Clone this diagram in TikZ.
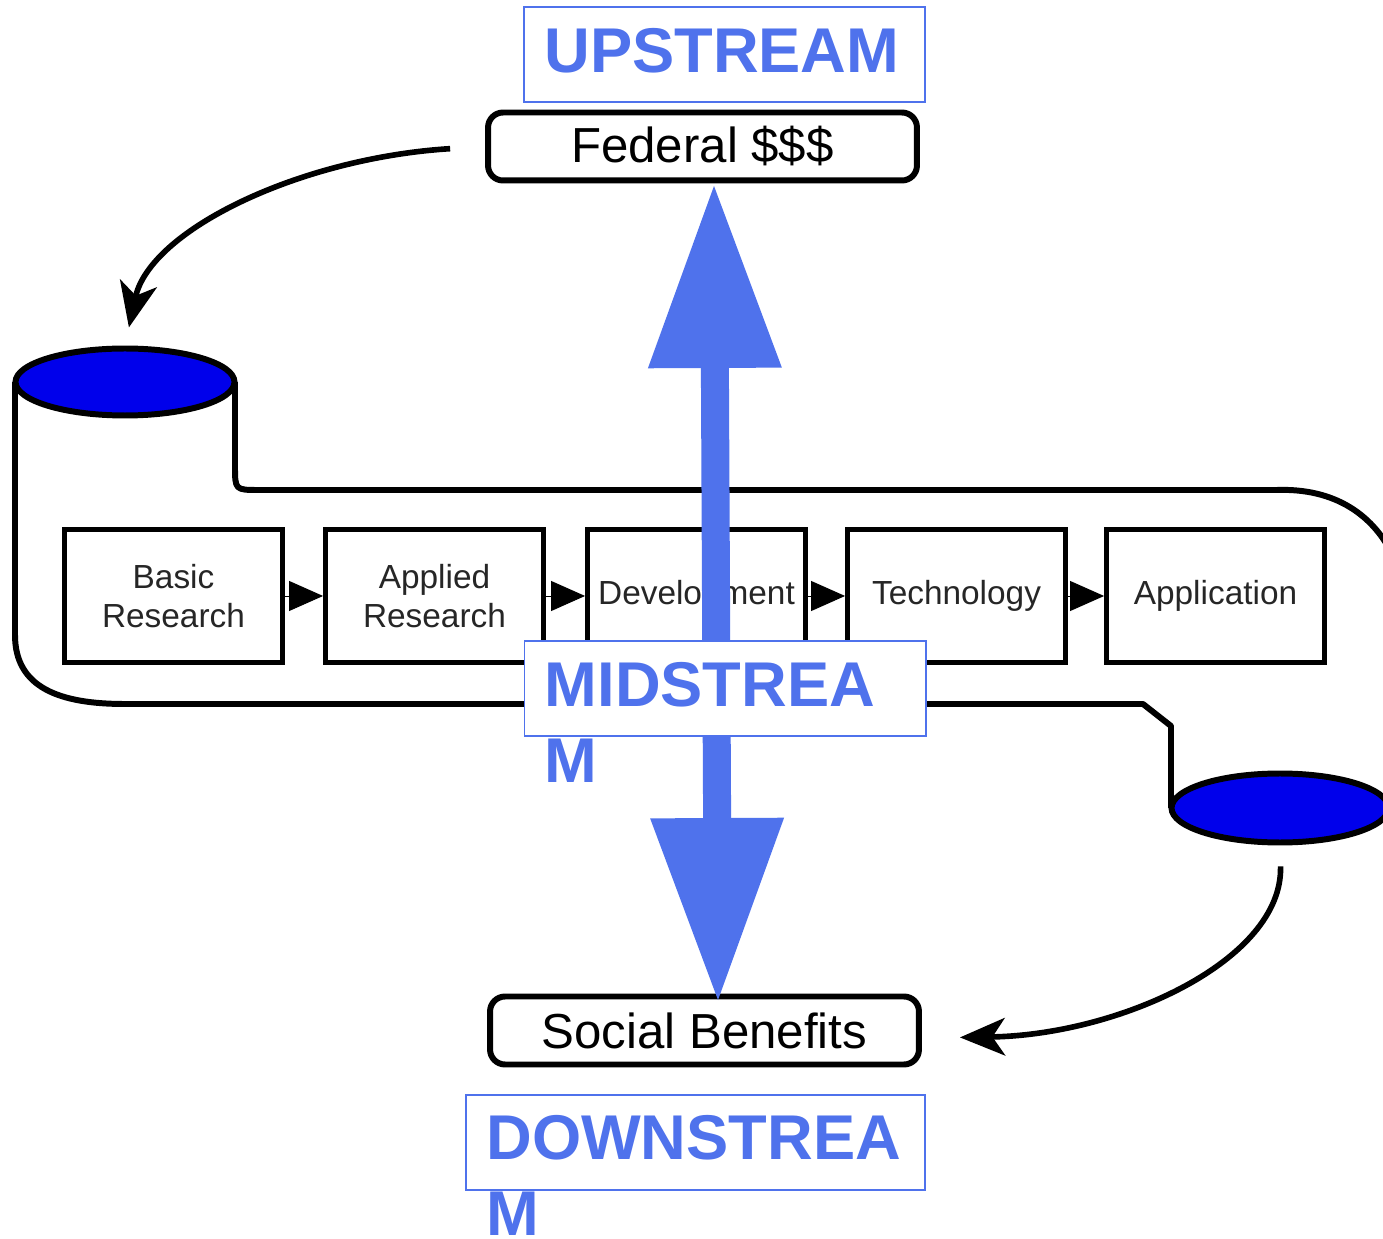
\documentclass[tikz,border=0pt]{standalone}
\usepackage{fontspec}
\setmainfont{Liberation Sans}
\usetikzlibrary{arrows.meta, shapes.geometric, positioning}
\definecolor{slideblue}{RGB}{79,114,236}
\definecolor{capblue}{RGB}{0,0,235}

\begin{document}
\begin{tikzpicture}[x=0.02cm, y=-0.02cm, >=Stealth,
	pipe/.style={line width=3.4pt, line join=round},
	stage/.style={draw, line width=2.8pt, minimum width=4.36cm, minimum height=2.66cm, inner sep=0pt, align=center, text=black!85, font=\fontsize{19}{22}\selectfont},
	money/.style={draw, line width=3.4pt, rounded corners=0.3cm, minimum width=8.58cm, minimum height=1.36cm, inner sep=0pt, font=\fontsize{28}{32}\selectfont},
	tankcap/.style={ellipse, draw, fill=capblue, line width=3.4pt, inner sep=0pt},
	tag/.style={draw=slideblue, line width=0.9pt, fill=white, minimum height=1.91cm, inner sep=0pt},
	tagtext/.style={text=slideblue, font=\fontsize{36}{43}\selectfont\bfseries, align=left, inner sep=0pt, anchor=north west},
	feed/.style={-{Triangle[length=0.68cm, width=0.6cm]}, line width=0.5pt},
	curvy/.style={-{Stealth[length=0.9cm, width=0.75cm, inset=0.25cm]}, line width=3.2pt},
	stream/.style={slideblue, line width=0.56cm, {Triangle[length=3.64cm, width=2.68cm, line width=0pt]}-{Triangle[length=3.64cm, width=2.68cm, line width=0pt]}}]
	\clip (0,0) rectangle (1383,1239);
	\fill[white] (0,0) rectangle (1383,1239);

	% the pipe
	\draw[pipe] (235,382) -- (235,466) .. controls (235,490) .. (259,490) -- (1277,490)
		.. controls (1335,488) and (1375,515) .. (1395,560) -- (1400,808);
	\draw[pipe] (15,382) -- (15,635) .. controls (15,688) and (60,704) .. (125,704)
		-- (1143,704) -- (1171,726) -- (1171,808);
	\node[tankcap, minimum width=4.38cm, minimum height=1.34cm] (6) at (125,382) {};
	\node[tankcap, minimum width=4.34cm, minimum height=1.38cm] (7) at (1280,808) {};

	\node[stage] (1) at (173.5,596) {Basic\\Research};
	\node[stage] (2) at (434.5,596) {Applied\\Research};
	\node[stage] (3) at (696.5,596) {\raisebox{-3pt}{Development}};
	\node[stage] (4) at (956.5,596) {\raisebox{-3pt}{Technology}};
	\node[stage] (5) at (1215.5,596) {\raisebox{-3pt}{Application}};
	\draw[feed] (1) to (2);
	\draw[feed] (2) to (3);
	\draw[feed] (3) to (4);
	\draw[feed] (4) to (5);

	\node[money] (8) at (702.5,146.5) {Federal \$\$\$};
	\node[money] (9) at (704.5,1030.5) {Social Benefits};

	\draw[curvy, shorten <=0.7cm, shorten >=0.37cm] (8.west) .. controls (300,158) and (150,230) .. (6.north);
	\draw[curvy, shorten <=0.42cm, shorten >=0.76cm] (7.south) .. controls (1283,960) and (1120,1035) .. ([yshift=-0.15cm]9.east);

	\coordinate (a) at (714,186);
	\coordinate (b) at (718,1000);
	\draw[stream] (a) -- (b);

	\node[tag, minimum width=8.03cm] (10) at (724.5,54.5) {};
	\node[tag, minimum width=8.03cm] (11) at (725,688.5) {};
	\node[tag, minimum width=9.19cm] (12) at (695.5,1142.5) {};
	\node[tagtext] at ([shift={(21,22)}]10.north west) {UPSTREAM};
	\node[tagtext] at ([shift={(21,22)}]11.north west) {MIDSTREA\\M};
	\node[tagtext] at ([shift={(21,21)}]12.north west) {DOWNSTREA\\M};
\end{tikzpicture}
\end{document}
